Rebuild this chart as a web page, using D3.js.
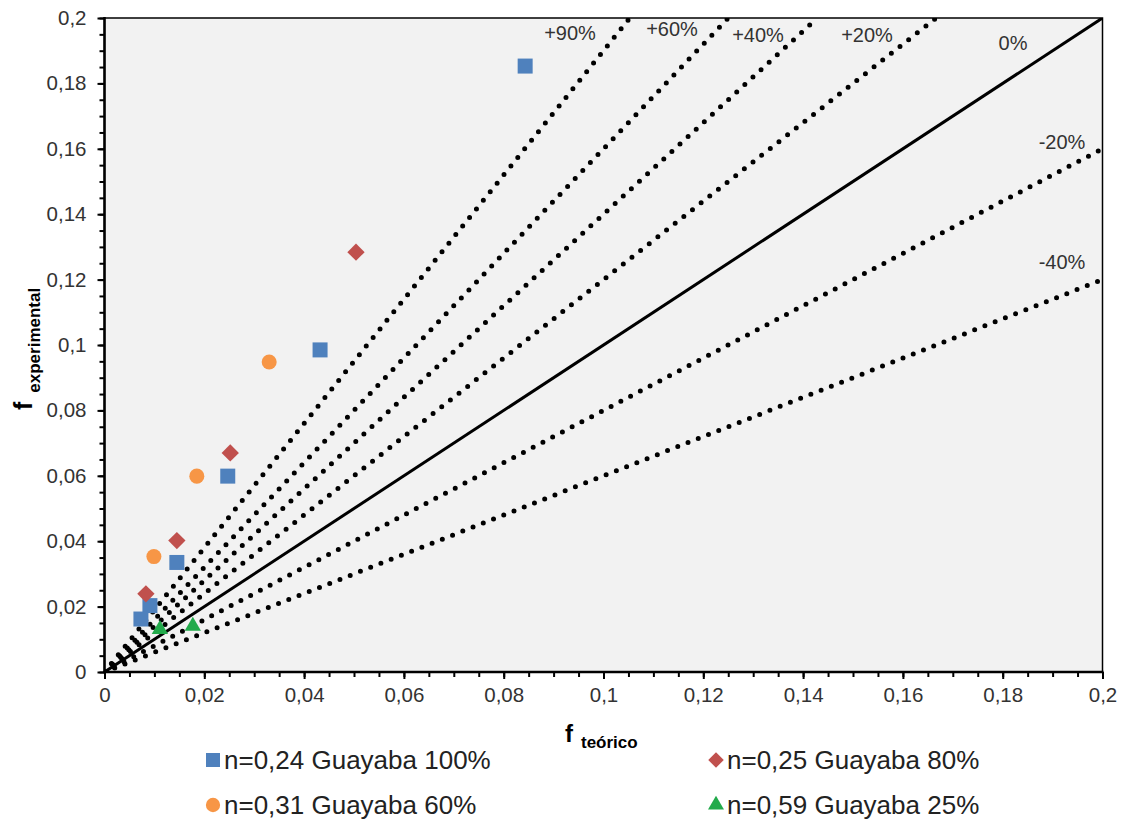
<!DOCTYPE html>
<html>
<head>
<meta charset="utf-8">
<script src="https://cdn.jsdelivr.net/npm/d3@7"></script>
<style>
  body { margin: 0; background: #fff; }
  svg { display: block; font-family: "Liberation Sans", Arial, sans-serif; }
</style>
</head>
<body>
<svg width="1125" height="819"></svg>
<script>
// series data (f teórico, f experimental)
const serie100 = [[0.0843, 0.1853], [0.0432, 0.0985], [0.0247, 0.0599], [0.0145, 0.0335], [0.0091, 0.0203], [0.0073, 0.0162]];
const serie80 = [[0.0504, 0.1284], [0.0252, 0.0670], [0.0145, 0.0402], [0.0083, 0.0239]];
const serie60 = [[0.0330, 0.0948], [0.0185, 0.0599], [0.0099, 0.0353]];
const serie25 = [[0.0111, 0.0135], [0.0177, 0.0145]];

const seriesNames = ['n=0,24 Guayaba 100%', 'n=0,25 Guayaba 80%', 'n=0,31 Guayaba 60%', 'n=0,59 Guayaba 25%'];
const seriesColors = ['#4F81BD', '#C0504D', '#F79646', '#22AA4B'];

// deviation lines y = (1 + p) x
const devPercents = [0.9, 0.6, 0.4, 0.2, -0.2, -0.4];
const devLabels = ['+90%', '+60%', '+40%', '+20%', '-20%', '-40%'];

const majorTicks = d3.range(0, 0.2001, 0.02);
const minorTicks = d3.range(0, 0.2001, 0.005);

const svg = d3.select('svg');
const x = d3.scaleLinear().domain([0, 0.2]).range([104.5, 1102.5]);
const y = d3.scaleLinear().domain([0, 0.2]).range([672, 18]);
const fmt = d => String(+d.toFixed(3)).replace('.', ',');

svg.append('defs').append('clipPath').attr('id', 'plot')
  .append('rect')
  .attr('x', x(0)).attr('y', y(0.2))
  .attr('width', x(0.2) - x(0)).attr('height', y(0) - y(0.2));

svg.append('rect')
  .attr('x', x(0)).attr('y', y(0.2))
  .attr('width', x(0.2) - x(0)).attr('height', y(0) - y(0.2))
  .attr('fill', '#F2F2F2')
  .attr('stroke', '#000').attr('stroke-width', 1.5);

const g = svg.append('g').attr('clip-path', 'url(#plot)');

// dotted deviation lines
devPercents.forEach(p => {
  const k = 1 + p;
  const xe = Math.min(0.2, 0.2 / k);
  g.append('line')
    .attr('x1', x(0)).attr('y1', y(0))
    .attr('x2', x(xe)).attr('y2', y(xe * k))
    .attr('stroke', '#000')
    .attr('stroke-width', 5)
    .attr('stroke-linecap', 'round')
    .attr('stroke-dasharray', '0 11');
});

// 0% line
g.append('line')
  .attr('x1', x(0)).attr('y1', y(0))
  .attr('x2', x(0.2)).attr('y2', y(0.2))
  .attr('stroke', '#000').attr('stroke-width', 3);

// axes
const yMinor = svg.append('g').attr('transform', `translate(${x(0)},0)`)
  .call(d3.axisLeft(y).tickValues(minorTicks).tickSize(5).tickFormat(''));
const yMajor = svg.append('g').attr('transform', `translate(${x(0)},0)`)
  .call(d3.axisLeft(y).tickValues(majorTicks).tickSize(7).tickPadding(11).tickFormat(fmt));
const xMinor = svg.append('g').attr('transform', `translate(0,${y(0)})`)
  .call(d3.axisBottom(x).tickValues(minorTicks).tickSize(5).tickFormat(''));
const xMajor = svg.append('g').attr('transform', `translate(0,${y(0)})`)
  .call(d3.axisBottom(x).tickValues(majorTicks).tickSize(7).tickPadding(8).tickFormat(fmt));

[yMinor, yMajor, xMinor, xMajor].forEach(a => {
  a.select('.domain').remove();
  a.selectAll('line').attr('stroke', '#000').attr('stroke-width', 2);
  a.selectAll('text').attr('font-size', 20.5).attr('fill', '#333')
    .attr('font-family', '"Liberation Sans", Arial, sans-serif');
});
svg.append('line').attr('x1', x(0)).attr('x2', x(0)).attr('y1', y(0.2) - 1).attr('y2', y(0) + 1)
  .attr('stroke', '#000').attr('stroke-width', 2.5);
svg.append('line').attr('x1', x(0) - 1).attr('x2', x(0.2) + 1).attr('y1', y(0)).attr('y2', y(0))
  .attr('stroke', '#000').attr('stroke-width', 2.5);

// line labels
const labelPos = [[570, 40], [672, 36], [758, 42], [867, 42], [1062, 149], [1062, 269]];
devLabels.forEach((t, i) => {
  svg.append('text')
    .attr('x', labelPos[i][0]).attr('y', labelPos[i][1])
    .attr('text-anchor', 'middle')
    .attr('font-size', 20).attr('fill', '#333')
    .text(t);
});
svg.append('text').attr('x', 1013).attr('y', 50).attr('text-anchor', 'middle')
  .attr('font-size', 20).attr('fill', '#333').text('0%');

// markers
const markers = [
  {data: serie100, path: d3.symbol().type(d3.symbolSquare).size(225)(), rot: 0},
  {data: serie80, path: d3.symbol().type(d3.symbolSquare).size(150)(), rot: 45},
  {data: serie60, path: d3.symbol().type(d3.symbolCircle).size(177)(), rot: 0},
  {data: serie25, path: d3.symbol().type(d3.symbolTriangle).size(115)(), rot: 0}
];
markers.forEach((m, i) => {
  svg.append('g').selectAll('path')
    .data(m.data)
    .enter()
    .append('path')
    .attr('d', m.path)
    .attr('transform', d => `translate(${x(d[0])},${y(d[1]) + (i === 3 ? 1.5 : 0)}) rotate(${m.rot})`)
    .attr('fill', seriesColors[i]);
});

// axis titles
const xt = svg.append('text').attr('x', 565).attr('y', 742)
  .attr('font-weight', 'bold').attr('fill', '#000');
xt.append('tspan').attr('font-size', 24).text('f');
xt.append('tspan').attr('font-size', 17).attr('dx', 8).attr('dy', 6).text('teórico');

const yt = svg.append('text').attr('transform', 'translate(32,410) rotate(-90)')
  .attr('font-weight', 'bold').attr('fill', '#000');
yt.append('tspan').attr('font-size', 25).text('f');
yt.append('tspan').attr('font-size', 17).attr('dx', 9).attr('dy', 8).text('experimental');

// legend
const legendPos = [[213, 760], [716, 760], [213, 805], [716, 805]];
const legendSym = [
  {path: d3.symbol().type(d3.symbolSquare).size(196)(), rot: 0},
  {path: d3.symbol().type(d3.symbolSquare).size(120)(), rot: 45},
  {path: d3.symbol().type(d3.symbolCircle).size(160)(), rot: 0},
  {path: d3.symbol().type(d3.symbolTriangle).size(110)(), rot: 0}
];
seriesNames.forEach((name, i) => {
  const [lx, ly] = legendPos[i];
  svg.append('path').attr('d', legendSym[i].path)
    .attr('transform', `translate(${lx},${ly}) rotate(${legendSym[i].rot})`)
    .attr('fill', seriesColors[i]);
  svg.append('text').attr('x', lx + 11).attr('y', ly + 9)
    .attr('font-size', 26).attr('fill', '#222')
    .text(name);
});
</script>
</body>
</html>
